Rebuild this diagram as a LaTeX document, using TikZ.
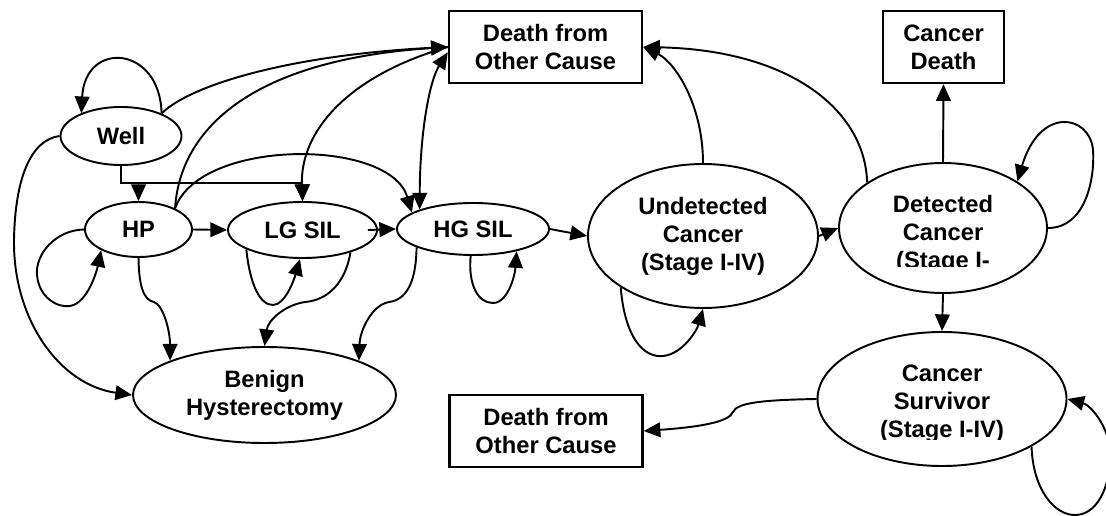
\documentclass[tikz,border=0pt]{standalone}
\usepackage{fontspec}
\setmainfont{Liberation Sans}
\usetikzlibrary{arrows.meta,shapes.geometric}
\newcommand\lbl{\fontsize{17.8}{21}\selectfont\bfseries}
\begin{document}
\begin{tikzpicture}[x=0.75pt,y=-0.75pt,
 ln/.style={line width=1.45pt},
 arr/.style={ln,-{Triangle[length=12.5pt,width=11pt]}},
 dbl/.style={ln,{Triangle[length=12.5pt,width=11pt]}-{Triangle[length=12.5pt,width=11pt]}},
 st/.style={ellipse,draw,line width=1.45pt,inner sep=0pt,align=center,font=\lbl},
 bx/.style={rectangle,draw,line width=1.8pt,inner sep=0pt,align=center,font=\lbl},
 txt/.style={inner sep=0pt,align=center,font=\lbl}]
\useasboundingbox (0,0) rectangle (1106,516);
% nodes
\node[bx,minimum width=144.75pt,minimum height=54pt] (dtop) at (545.5,47) {Death from\\Other Cause};
\node[bx,minimum width=90.75pt,minimum height=54pt] (cdeath) at (943.5,47) {Cancer\\Death};
\node[st,minimum width=90.75pt,minimum height=43.5pt] (well) at (121,136) {Well};
\node[st,minimum width=80.25pt,minimum height=41.25pt] (hp) at (138.5,229.5) {HP};
\node[st,minimum width=111.75pt,minimum height=42pt] (lg) at (302.5,230) {LG SIL};
\node[st,minimum width=114pt,minimum height=39pt] (hg) at (473,229) {HG SIL};
\node[st,minimum width=172.5pt,minimum height=108pt] (und) at (703,236) {Undetected\\Cancer\\(Stage I-IV)};
\node[st,minimum width=156pt,minimum height=97.5pt] (det) at (943,228) {};
\begin{scope}
\clip (830,150) rectangle (1060,267);
\node[txt] (dettext) at (943,234) {Detected\\Cancer\\(Stage I-};
\end{scope}
\node[st,minimum width=186.75pt,minimum height=100.5pt] (surv) at (942,399) {};
\begin{scope}
\clip (810,330) rectangle (1070,439);
\node[txt] (survtext) at (942,404) {Cancer\\Survivor\\(Stage I-IV)};
\end{scope}
\node[st,minimum width=197.25pt,minimum height=72pt] (ben) at (264.5,395) {Benign\\Hysterectomy};
\node[bx,minimum width=144.75pt,minimum height=54pt] (dbot) at (546,431) {Death from\\Other Cause};
% well
\draw[arr] (well.29) .. controls (160,45) and (85,40) .. (well.150);
\draw[arr] (well.29) .. controls (190,85) and (290,55) .. (dtop.west);
\coordinate (e1) at (121,183);
\coordinate (e2) at (302.5,183);
\draw[arr] (well.south) -- (e1) -- (e2) -- (lg.north);
\draw[arr] (hp.north |- e1) -- (hp.north);
\draw[arr] (well.west) .. controls (30,140) and (15,180) .. (14,240) .. controls (13,320) and (60,385) .. (ben.west);
% HP
\draw[arr] (hp.30) .. controls (180,130) and (250,60) .. (dtop.west);
\draw[arr] (hp.30) .. controls (200,138) and (390,138) .. (hg.165);
\draw[arr] (hp.east) -- (lg.west);
\draw[arr] (hp.west) .. controls (55,230) and (35,255) .. (37,275) .. controls (39,298) and (58,308) .. (70,306) .. controls (88,303) and (97,270) .. (hp.209);
\draw[arr] (hp.south) .. controls (139,285) and (143,300) .. (154,302) .. controls (163,305) and (170,330) .. (ben.160);
% LG
\draw[arr] (dtop.west) .. controls (350,75) and (300,130) .. (lg.north);
\draw[arr] ([xshift=-7.5pt]lg.east) -- (hg.west);
\draw[arr] (lg.199) .. controls (250,285) and (260,305) .. (273,305) .. controls (285,305) and (294,280) .. (lg.265);
\draw[arr] (lg.335) .. controls (346,280) and (330,300) .. (305,302) .. controls (285,305) and (268,320) .. (ben.north);
% HG
\draw[dbl] (hg.160) .. controls (420,130) and (430,80) .. ([yshift=-4pt]dtop.west);
\draw[arr] (hg.265) .. controls (468,285) and (478,303) .. (493,303) .. controls (508,303) and (515,275) .. (hg.333);
\draw[arr] (hg.198) .. controls (416,285) and (405,300) .. (389,302) .. controls (372,305) and (360,330) .. (ben.20);
\draw[arr] (hg.east) -- (und.west);
% Undetected
\draw[arr] (und.east) -- (det.west);
\draw[arr] (und.north) .. controls (703,105) and (675,62) .. (dtop.east);
\draw[arr] (und.212) .. controls (625,340) and (645,358) .. (663,356) .. controls (683,354) and (697,330) .. (und.south);
% Detected
\draw[arr] (det.149) .. controls (865,110) and (790,50) .. (dtop.east);
\draw[arr] (det.north) -- (cdeath.south);
\draw[arr] (det.east) .. controls (1085,228) and (1095,180) .. (1093,150) .. controls (1090,115) and (1040,105) .. (det.32);
\draw[arr] (det.south) -- (surv.north);
% Survivor
\draw[arr] (surv.west) .. controls (760,400) and (737,403) .. (733,412) .. controls (729,422) and (700,427) .. (dbot.east);
\draw[arr] (surv.332) .. controls (1033,490) and (1055,516) .. (1076,515) .. controls (1100,514) and (1112,480) .. (1110,450) .. controls (1108,425) and (1090,405) .. (surv.east);
\end{tikzpicture}
\end{document}
